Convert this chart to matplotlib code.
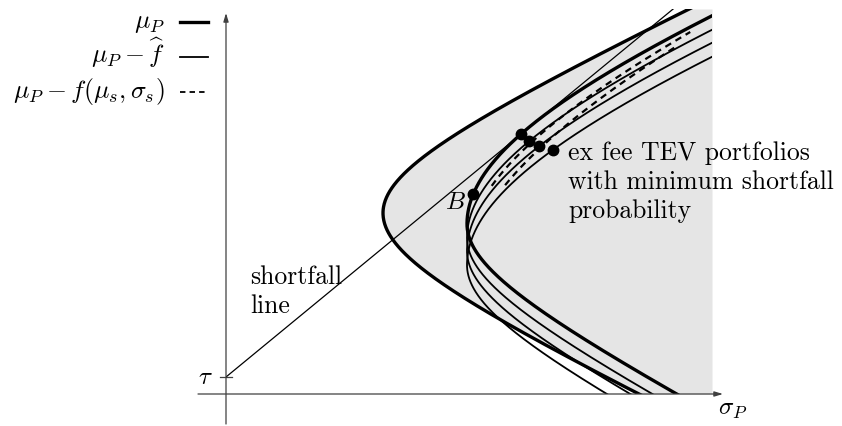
import numpy as np
import matplotlib
matplotlib.use("Agg")
import matplotlib.pyplot as plt
from matplotlib.patches import Rectangle

plt.rcParams["font.family"] = "serif"
plt.rcParams["font.serif"] = ["cmr10", "DejaVu Serif"]
plt.rcParams["mathtext.fontset"] = "cm"
plt.rcParams["axes.unicode_minus"] = False

# frontier = (vertex sigma, vertex mu, A above, B above, A below, B below)
mv_frontier = (1.57, 1.81, 1.57, 0.735, 1.57, 0.744)
tev_frontier = (2.41, 1.70, 5.00, 1.885, 1.50, 0.78)
fixed_fees = [0.14, 0.27, 0.41]          # mu_P - f_hat
# mu_P - f(mu_s, sigma_s): fee at the upper end, its decrease per unit mu, mu range
perf_fee_top = [0.05, 0.12]
perf_fee_slope = [0.123, 0.21]
perf_mu_lo = [2.30, 2.45]
perf_mu_hi = [3.67, 3.60]
tau = 0.17
shortfall_slope = 0.823
# minimum shortfall portfolios: (fee shift, mu after fee)
min_sf_fees = [0.0, 0.14, 0.27, 0.41]
min_sf_mu = [2.60, 2.53, 2.48, 2.44]
point_B_mu = 2.00
sigma_max, mu_max = 4.86, 3.85

key_labels = [r"$\mu_P$", r"$\mu_P-\widehat{f}$", r"$\mu_P-f(\mu_s,\sigma_s)$"]
key_styles = [dict(lw=2.4), dict(lw=1.3), dict(lw=1.3, dashes=(3, 2.3))]


def frontier_sigma(mu, p):
    vs, vm, a_up, b_up, a_dn, b_dn = p
    d = np.asarray(mu, float) - vm
    a = np.where(d >= 0, a_up, a_dn)
    b = np.where(d >= 0, b_up, b_dn)
    return vs + a * (np.sqrt(1 + (d / b) ** 2) - 1)


fig = plt.figure(figsize=(8.42, 4.27), dpi=100)
ax = fig.add_axes([0, 0, 1, 1])
ax.set_xlim(-2.26, 6.16)
ax.set_ylim(-0.32, 3.95)
ax.axis("off")

clip = Rectangle((0, 0), sigma_max, mu_max, transform=ax.transData)

# shaded region right of the mean-variance frontier
mu = np.linspace(0, mu_max, 400)
ax.fill_betweenx(mu, frontier_sigma(mu, mv_frontier), sigma_max,
                 color="#e5e5e5", lw=0, zorder=0)

# axes with arrows
arrow = dict(arrowstyle="-|>,head_length=0.5,head_width=0.15",
             color="0.25", lw=0.9, shrinkA=0, shrinkB=0)
ax.annotate("", xy=(4.97, 0), xytext=(-0.28, 0), arrowprops=arrow)
ax.annotate("", xy=(0, 3.81), xytext=(0, -0.30), arrowprops=arrow)
ax.plot([-0.06, 0.06], [tau, tau], color="0.25", lw=0.9)
ax.text(-0.21, tau, r"$\tau$", fontsize=18, ha="center", va="center")
ax.text(5.07, -0.15, r"$\sigma_P$", fontsize=18, ha="center", va="center")

mu_all = np.linspace(-0.5, 4.5, 800)
lines = []
l, = ax.plot(frontier_sigma(mu_all, mv_frontier), mu_all, color="k", lw=2.4)
lines.append(l)
l, = ax.plot(frontier_sigma(mu_all, tev_frontier), mu_all, color="k", lw=2.4)
lines.append(l)

for f in fixed_fees:
    l, = ax.plot(frontier_sigma(mu_all, tev_frontier), mu_all - f, color="k", lw=1.3)
    lines.append(l)

for f_top, g, lo, hi in zip(perf_fee_top, perf_fee_slope, perf_mu_lo, perf_mu_hi):
    mp = np.linspace(lo, hi, 200)
    fee = f_top + g * (hi - mp)
    l, = ax.plot(frontier_sigma(mp, tev_frontier), mp - fee,
                 color="k", lw=1.6, dashes=(3, 2.3))
    lines.append(l)

# shortfall line from tau
sf_sigma = np.array([0.0, sigma_max])
l, = ax.plot(sf_sigma, tau + shortfall_slope * sf_sigma, color="k", lw=0.9)
lines.append(l)

for ln in lines:
    ln.set_clip_path(clip)

# portfolios with minimum shortfall probability and point B
for f, m in zip(min_sf_fees, min_sf_mu):
    ax.plot(frontier_sigma(m + f, tev_frontier), m, "o", color="k", ms=7.5, zorder=5)
ax.plot(frontier_sigma(point_B_mu, tev_frontier), point_B_mu, "o", color="k", ms=7.5, zorder=5)

ax.text(2.29, 1.92, r"$B$", fontsize=18, ha="center", va="center")
ax.text(3.42, 2.54, "ex fee TEV portfolios\nwith minimum shortfall\nprobability",
        fontsize=18.5, ha="left", va="top", linespacing=1.3)
ax.text(0.24, 1.30, "shortfall\nline", fontsize=18.5, ha="left", va="top", linespacing=1.3)

# key in the top-left corner: label, then line sample
for i, (lab, st) in enumerate(zip(key_labels, key_styles)):
    row = 3.72 - 0.35 * i
    ax.plot([-0.46, -0.18], [row, row], color="k", clip_on=False, **st)
    ax.text(-0.61, row - 0.05, lab, fontsize=18.5, ha="right", va="baseline")

fig.savefig("out.png", dpi=100)
